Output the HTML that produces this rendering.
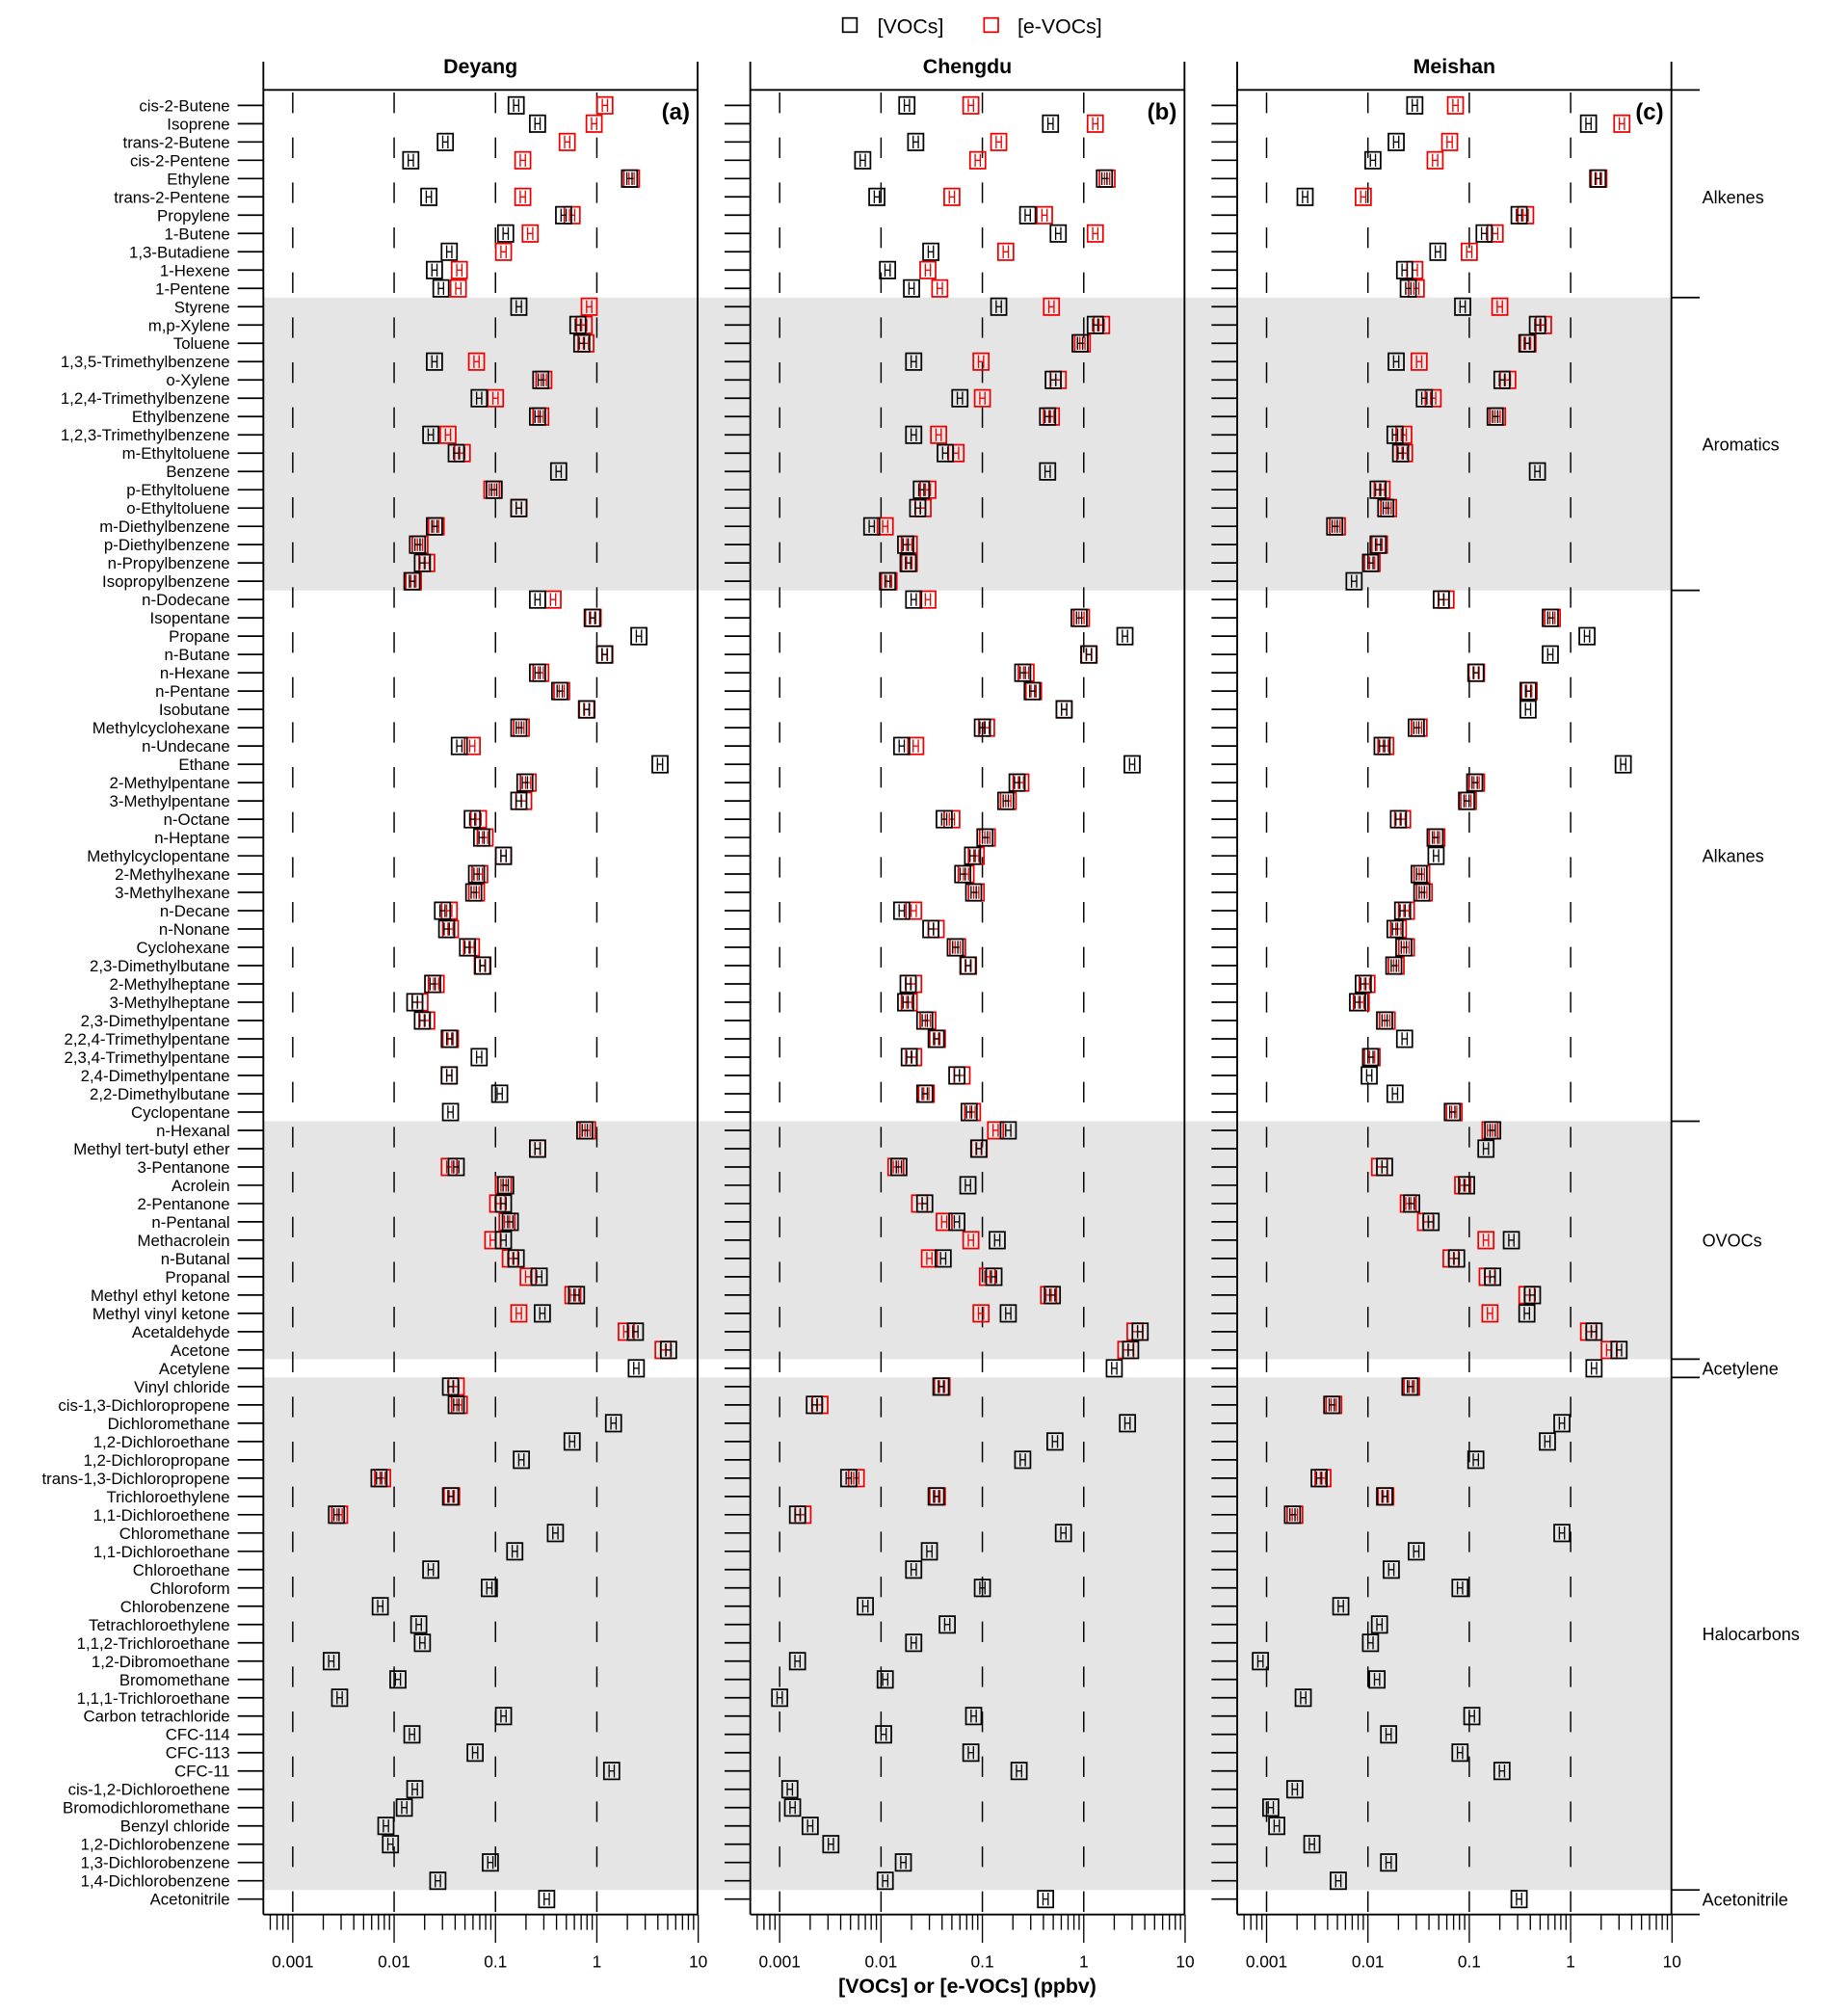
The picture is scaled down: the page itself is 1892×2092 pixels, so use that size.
<!DOCTYPE html>
<html><head><meta charset="utf-8"><style>
html,body{margin:0;padding:0;background:#fff}
svg{display:block;font-family:"Liberation Sans",sans-serif}
</style></head><body>
<svg id="chart" width="1892" height="2092" viewBox="0 0 1419 1569" xmlns="http://www.w3.org/2000/svg"></svg>
<script>
const species=["cis-2-Butene","Isoprene","trans-2-Butene","cis-2-Pentene","Ethylene","trans-2-Pentene","Propylene","1-Butene","1,3-Butadiene","1-Hexene","1-Pentene",
"Styrene","m,p-Xylene","Toluene","1,3,5-Trimethylbenzene","o-Xylene","1,2,4-Trimethylbenzene","Ethylbenzene","1,2,3-Trimethylbenzene","m-Ethyltoluene","Benzene","p-Ethyltoluene","o-Ethyltoluene","m-Diethylbenzene","p-Diethylbenzene","n-Propylbenzene","Isopropylbenzene",
"n-Dodecane","Isopentane","Propane","n-Butane","n-Hexane","n-Pentane","Isobutane","Methylcyclohexane","n-Undecane","Ethane","2-Methylpentane","3-Methylpentane","n-Octane","n-Heptane","Methylcyclopentane","2-Methylhexane","3-Methylhexane","n-Decane","n-Nonane","Cyclohexane","2,3-Dimethylbutane","2-Methylheptane","3-Methylheptane","2,3-Dimethylpentane","2,2,4-Trimethylpentane","2,3,4-Trimethylpentane","2,4-Dimethylpentane","2,2-Dimethylbutane","Cyclopentane",
"n-Hexanal","Methyl tert-butyl ether","3-Pentanone","Acrolein","2-Pentanone","n-Pentanal","Methacrolein","n-Butanal","Propanal","Methyl ethyl ketone","Methyl vinyl ketone","Acetaldehyde","Acetone",
"Acetylene",
"Vinyl chloride","cis-1,3-Dichloropropene","Dichloromethane","1,2-Dichloroethane","1,2-Dichloropropane","trans-1,3-Dichloropropene","Trichloroethylene","1,1-Dichloroethene","Chloromethane","1,1-Dichloroethane","Chloroethane","Chloroform","Chlorobenzene","Tetrachloroethylene","1,1,2-Trichloroethane","1,2-Dibromoethane","Bromomethane","1,1,1-Trichloroethane","Carbon tetrachloride","CFC-114","CFC-113","CFC-11","cis-1,2-Dichloroethene","Bromodichloromethane","Benzyl chloride","1,2-Dichlorobenzene","1,3-Dichlorobenzene","1,4-Dichlorobenzene",
"Acetonitrile"];
const groups=[["Alkenes",0,10,false],["Aromatics",11,26,true],["Alkanes",27,55,false],["OVOCs",56,68,true],["Acetylene",69,69,false],["Halocarbons",70,97,true],["Acetonitrile",98,98,false]];
const sites=["Deyang","Chengdu","Meishan"];
const panelTags=["(a)","(b)","(c)"];
const tickLabels=["0.001","0.01","0.1","1","10"];
const N=null;
const deyangVOC=[0.16,0.26,0.032,0.0146,2.1,0.022,0.47,0.126,0.035,0.025,0.029,
0.17,0.65,0.71,0.025,0.28,0.069,0.26,0.023,0.041,0.42,0.097,0.17,0.025,0.017,0.019,0.015,
0.26,0.9,2.6,1.19,0.26,0.43,0.79,0.17,0.044,4.2,0.195,0.17,0.059,0.073,0.12,0.065,0.061,0.03,0.033,0.053,0.075,0.024,0.016,0.019,0.035,0.069,0.035,0.11,0.036,
0.76,0.26,0.041,0.126,0.12,0.14,0.12,0.16,0.27,0.63,0.29,2.4,5.1,
2.45,
0.036,0.041,1.46,0.57,0.18,0.0071,0.036,0.0027,0.39,0.155,0.023,0.087,0.0073,0.0175,0.019,0.0024,0.0109,0.0029,0.12,0.015,0.063,1.4,0.016,0.0126,0.0083,0.0092,0.089,0.027,
0.32];
const deyangEVOC=[1.2,0.94,0.51,0.186,2.2,0.186,0.57,0.22,0.12,0.044,0.043,
0.84,0.75,0.78,0.065,0.30,0.1,0.28,0.034,0.047,N,0.092,0.17,0.026,0.018,0.021,0.0155,
0.37,0.92,N,1.2,0.28,0.45,0.8,0.18,0.059,N,0.21,0.19,0.068,0.079,0.12,0.07,0.065,0.035,0.036,0.058,0.074,0.026,0.018,0.021,0.036,N,0.035,N,N,
0.81,0.26,0.035,0.12,0.105,0.13,0.094,0.14,0.21,0.58,0.17,1.95,4.5,
N,
0.041,0.044,N,N,N,0.0077,0.037,0.0029,N,N,N,N,N,N,N,N,N,N,N,N,N,N,N,N,N,N,N,N,
N];
const chengduVOC=[0.018,0.47,0.022,0.0066,1.6,0.0091,0.28,0.56,0.031,0.0116,0.02,
0.145,1.3,0.92,0.021,0.5,0.06,0.44,0.021,0.043,0.44,0.025,0.023,0.0081,0.0175,0.0185,0.0116,
0.021,0.9,2.55,1.12,0.25,0.31,0.64,0.1,0.016,3.0,0.22,0.17,0.042,0.106,0.08,0.064,0.082,0.016,0.031,0.054,0.072,0.0185,0.0175,0.027,0.035,0.019,0.056,0.027,0.074,
0.18,0.092,0.015,0.072,0.027,0.056,0.14,0.041,0.13,0.49,0.18,3.6,2.9,
2.0,
0.039,0.0022,2.7,0.52,0.25,0.0048,0.035,0.0015,0.63,0.03,0.021,0.1,0.007,0.045,0.021,0.0015,0.011,0.001,0.082,0.0106,0.077,0.23,0.00126,0.00134,0.002,0.0032,0.0166,0.011,
0.42];
const chengduEVOC=[0.077,1.3,0.145,0.09,1.7,0.05,0.41,1.3,0.17,0.029,0.038,
0.48,1.5,0.97,0.097,0.56,0.1,0.48,0.037,0.055,N,0.029,0.026,0.011,0.019,0.019,0.012,
0.029,0.95,N,1.13,0.27,0.32,0.64,0.11,0.022,N,0.24,0.18,0.05,0.112,0.087,0.069,0.087,0.021,0.035,0.057,0.073,0.021,0.019,0.029,0.036,0.021,0.063,0.028,0.08,
0.135,0.093,0.014,N,0.024,0.042,0.077,0.03,0.112,0.45,0.097,3.2,2.6,
N,
0.04,0.0025,N,N,N,0.0057,0.036,0.0017,N,N,N,N,N,N,N,N,N,N,N,N,N,N,N,N,N,N,N,N,
N];
const meishanVOC=[0.029,1.5,0.019,0.0112,1.85,0.0024,0.31,0.14,0.049,0.023,0.025,
0.086,0.47,0.37,0.019,0.21,0.036,0.18,0.0185,0.021,0.47,0.0126,0.015,0.0047,0.0126,0.0106,0.0073,
0.053,0.63,1.45,0.63,0.116,0.38,0.38,0.03,0.0138,3.3,0.113,0.094,0.02,0.046,0.047,0.032,0.034,0.022,0.0185,0.0226,0.018,0.009,0.0079,0.0146,0.023,0.0106,0.0103,0.0185,0.068,
0.17,0.146,0.0146,0.094,0.027,0.042,0.26,0.075,0.17,0.42,0.37,1.7,3.0,
1.7,
0.026,0.0044,0.82,0.59,0.116,0.0033,0.0146,0.0018,0.82,0.03,0.017,0.081,0.0054,0.013,0.0106,0.00087,0.0123,0.0023,0.106,0.016,0.081,0.21,0.0019,0.0011,0.00126,0.0028,0.016,0.0051,
0.31];
const meishanEVOC=[0.073,3.2,0.064,0.046,1.9,0.009,0.36,0.18,0.1,0.029,0.03,
0.2,0.54,0.38,0.032,0.24,0.044,0.19,0.0226,0.023,N,0.0138,0.016,0.005,0.013,0.011,N,
0.059,0.66,N,N,0.118,0.39,N,0.032,0.015,N,0.118,0.098,0.022,0.048,N,0.034,0.036,0.024,0.02,0.024,0.019,0.0098,0.0086,0.0155,N,0.011,N,N,0.071,
0.16,N,0.013,0.086,0.025,0.037,0.146,0.066,0.15,0.37,0.16,1.5,2.4,
N,
0.027,0.0046,N,N,N,0.0036,0.015,0.0019,N,N,N,N,N,N,N,N,N,N,N,N,N,N,N,N,N,N,N,N,
N];
const vocSeries=[deyangVOC,chengduVOC,meishanVOC];
const evocSeries=[deyangEVOC,chengduEVOC,meishanEVOC];

const svg=document.getElementById('chart');
const NS="http://www.w3.org/2000/svg";
function mk(tag,attrs,parent){const e=document.createElementNS(NS,tag);for(const k in attrs)e.setAttribute(k,attrs[k]);(parent||svg).appendChild(e);return e;}
const panelL=[205,584,963], panelW=338, decade=78.9, logMin=-3.29;
const rowY0=82, rowStep=14.245, topY=48, headY=70, botY=1490;
function xScale(p,v){return panelL[p]+(Math.log10(v)-logMin)*decade;}
function yScale(i){return rowY0+i*rowStep;}
function edge(i){return rowY0+(i+0.5)*rowStep;}

groups.forEach(g=>{if(g[3]){const r=mk('rect',{x:205,y:edge(g[1]-1),width:1096,height:edge(g[2])-edge(g[1]-1),fill:'#e5e5e5'});

}});

const lg=mk('g',{});


mk('rect',{x:656,y:14,width:11,height:11,fill:'none',stroke:'#000','stroke-width':1.3},lg);
const lt1=mk('text',{x:683,y:26,'font-size':16},lg);lt1.textContent='[VOCs]';
mk('rect',{x:766,y:14,width:11,height:11,fill:'none',stroke:'#e00','stroke-width':1.3},lg);
const lt2=mk('text',{x:792,y:26,'font-size':16},lg);lt2.textContent='[e-VOCs]';

species.forEach((s,i)=>{const t=mk('text',{x:179,y:yScale(i)+4.5,'text-anchor':'end','font-size':12.6});t.textContent=s;


panelL.forEach(L=>mk('line',{x1:L-20,x2:L,y1:yScale(i),y2:yScale(i),stroke:'#000','stroke-width':1.3}));});

const bounds=[headY];groups.forEach(g=>bounds.push(edge(g[2])));bounds[bounds.length-1]=botY;
bounds.forEach(b=>mk('line',{x1:1301,x2:1323,y1:b,y2:b,stroke:'#000','stroke-width':1.3}));
groups.forEach(g=>{const t=mk('text',{x:1325,y:(yScale(g[1])+yScale(g[2]))/2+5,'font-size':13.5});t.textContent=g[0];

});

function glyph(p,v,i,col,parent){const cx=xScale(p,v),cy=yScale(i);
const g=mk('g',{},parent);
mk('rect',{x:cx-6,y:cy-6.5,width:12,height:13,fill:'none',stroke:col,'stroke-width':1.3},g);
mk('line',{x1:cx-2,x2:cx-2,y1:cy-5,y2:cy+5,stroke:col,'stroke-width':1},g);
mk('line',{x1:cx+2,x2:cx+2,y1:cy-5,y2:cy+5,stroke:col,'stroke-width':1},g);
mk('line',{x1:cx-2,x2:cx+2,y1:cy,y2:cy,stroke:col,'stroke-width':1},g);
return g;}

panelL.forEach((L,p)=>{
const pg=mk('g',{});


for(let d=-3;d<=0;d++){const x=xScale(p,Math.pow(10,d));mk('line',{x1:x,x2:x,y1:72,y2:botY,stroke:'#000','stroke-width':1.1,'stroke-dasharray':'16 19'},pg);}
mk('line',{x1:L,x2:L,y1:topY,y2:botY,stroke:'#000','stroke-width':1.4},pg);
mk('line',{x1:L+panelW,x2:L+panelW,y1:topY,y2:botY,stroke:'#000','stroke-width':1.4},pg);
mk('line',{x1:L,x2:L+panelW,y1:headY,y2:headY,stroke:'#000','stroke-width':1.4},pg);
mk('line',{x1:L,x2:L+panelW,y1:botY,y2:botY,stroke:'#000','stroke-width':1.4},pg);
const tt=mk('text',{x:L+panelW/2,y:57,'text-anchor':'middle','font-size':16,'font-weight':'bold'},pg);tt.textContent=sites[p];


const tg=mk('text',{x:L+panelW-6,y:93,'text-anchor':'end','font-size':18,'font-weight':'bold'},pg);tg.textContent=panelTags[p];
for(let d=-4;d<=0;d++){for(let m=1;m<=9;m++){const v=m*Math.pow(10,d);const lv=Math.log10(v);if(lv<logMin-1e-9||lv>1.0001)continue;const x=xScale(p,v);
mk('line',{x1:x,x2:x,y1:botY,y2:m===1?1512:1502,stroke:'#000','stroke-width':1},pg);}}
const x10=xScale(p,10);mk('line',{x1:x10,x2:x10,y1:botY,y2:1512,stroke:'#000','stroke-width':1},pg);
tickLabels.forEach((lab,k)=>{const t=mk('text',{x:xScale(p,Math.pow(10,k-3)),y:1531,'text-anchor':'middle','font-size':13},pg);t.textContent=lab;

});
species.forEach((s,i)=>{
const r=evocSeries[p][i];if(r!=null){const g=glyph(p,r,i,'#e00',pg);

}
const b=vocSeries[p][i];if(b!=null){const g=glyph(p,b,i,'#000',pg);

}
});
});
const at=mk('text',{x:753,y:1551,'text-anchor':'middle','font-size':16,'font-weight':'bold'});at.textContent='[VOCs] or [e-VOCs] (ppbv)';


</script>
</body></html>
